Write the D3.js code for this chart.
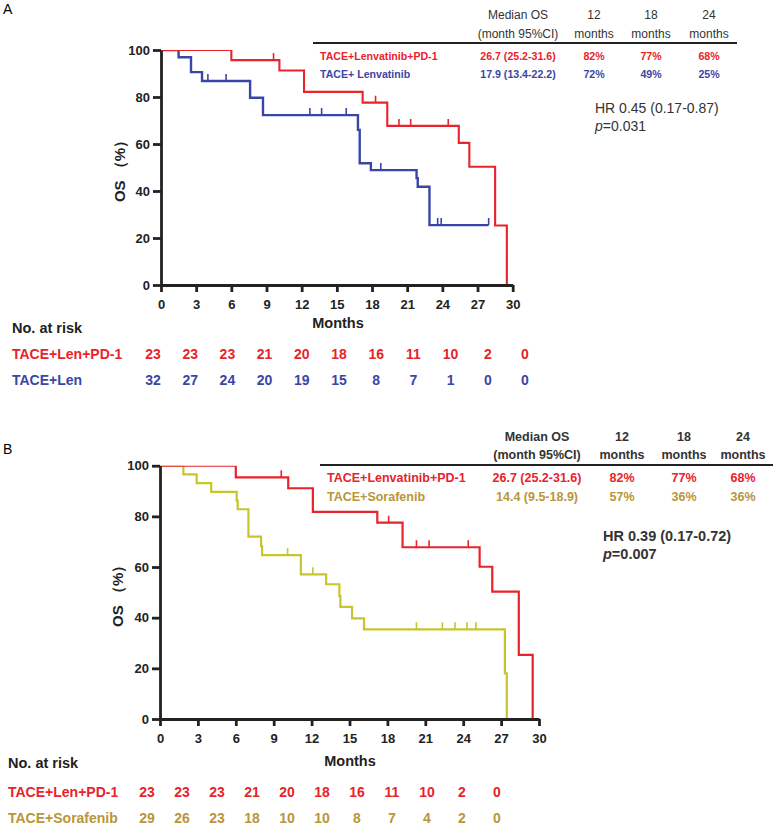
<!DOCTYPE html>
<meta charset="utf-8">
<style>
    body {
        margin: 0;
        background: #fff;
        font-family: "Liberation Sans", Arial, sans-serif;
    }
    .axis path, .axis line {
        stroke: #222;
        stroke-width: 2.8;
    }
    .axis text {
        font-size: 13px;
        font-weight: bold;
        fill: #222;
    }
    .km {
        fill: none;
    }
    .tbl {
        fill: #333;
    }
</style>
<body>
<script src="https://d3js.org/d3.v7.min.js"></script>
<script>

    var monthTicks = [0, 3, 6, 9, 12, 15, 18, 21, 24, 27, 30];
    var pctTicks = [0, 20, 40, 60, 80, 100];

    // panel A : survival steps [month, OS %], censor marks, end of follow-up
    var aLenPd1Steps = [[0, 100], [6.0, 95.7], [10.1, 91.3], [12.2, 82.2], [17.2, 77.6], [19.3, 67.7],
        [25.4, 60.5], [26.3, 50.3], [28.5, 25.3], [29.5, 0]];
    var aLenPd1Censor = [9.6, 18.3, 20.3, 21.3, 24.5];
    var aLenPd1End = 29.5;

    var aLenSteps = [[0, 100], [1.5, 96.9], [2.56, 90.6], [3.5, 86.8], [7.6, 79.7], [8.7, 72.3],
        [16.8, 66.0], [16.95, 51.8], [17.9, 48.9], [21.8, 45.5], [21.9, 41.8], [22.9, 25.5]];
    var aLenCensor = [4.0, 5.55, 12.7, 13.7, 15.8, 18.75, 23.6, 23.9, 27.95];
    var aLenEnd = 27.95;

    var aRiskLenPd1 = [23, 23, 23, 21, 20, 18, 16, 11, 10, 2, 0];
    var aRiskLen = [32, 27, 24, 20, 19, 15, 8, 7, 1, 0, 0];

    var aRowLabels = ["TACE+Lenvatinib+PD-1", "TACE+ Lenvatinib"];
    var aMedianOS = ["26.7 (25.2-31.6)", "17.9 (13.4-22.2)"];
    var aRates = [["82%", "77%", "68%"], ["72%", "49%", "25%"]];
    var aHR = "HR 0.45 (0.17-0.87)";
    var aP = "0.031";

    // panel B
    var bLenPd1Steps = [[0, 100], [6.0, 95.4], [10.15, 91.1], [12.1, 81.8], [17.2, 77.5], [19.2, 67.8],
        [25.3, 60.1], [26.3, 50.3], [28.4, 25.3], [29.5, 0]];
    var bLenPd1Censor = [9.6, 18.1, 20.3, 21.3, 24.4];
    var bLenPd1End = 29.5;

    var bSorSteps = [[0, 100], [1.85, 96.6], [2.9, 93.1], [4.05, 89.7], [6.07, 86.2], [6.15, 82.8],
        [7.0, 72.0], [8.0, 68.2], [8.08, 64.7], [11.15, 57.1], [13.15, 53.2], [14.2, 48.5],
        [14.28, 44.3], [15.2, 39.7], [16.15, 35.4], [27.3, 18.0], [27.45, 0]];
    var bSorCensor = [10.1, 12.1, 20.3, 22.35, 23.35, 24.3, 25.0];
    var bSorEnd = 27.45;

    var bRiskLenPd1 = [23, 23, 23, 21, 20, 18, 16, 11, 10, 2, 0];
    var bRiskSor = [29, 26, 23, 18, 10, 10, 8, 7, 4, 2, 0];

    var bRowLabels = ["TACE+Lenvatinib+PD-1", "TACE+Sorafenib"];
    var bMedianOS = ["26.7 (25.2-31.6)", "14.4 (9.5-18.9)"];
    var bRates = [["82%", "77%", "68%"], ["57%", "36%", "36%"]];
    var bHR = "HR 0.39 (0.17-0.72)";
    var bP = "0.007";

    var rateHeaders = ["12", "18", "24"];

    var red = "#e8232b", blue = "#3a46a6", olive = "#c6c62c", gold = "#b8963a";

    var svg = d3.select("body").append("svg")
        .attr("width", 777)
        .attr("height", 835);

    var defs = svg.append("defs");

    function drawPanel(c) {
        var x = d3.scaleLinear().domain([0, 30]).range(c.xr);
        var y = d3.scaleLinear().domain([0, 100]).range(c.yr);
        var riskX = d3.scaleLinear().domain([0, 30]).range(c.riskR);

        svg.append("text")
            .attr("x", 3).attr("y", c.letterY)
            .style("font-size", "14px")
            .text(c.letter);

        defs.append("clipPath")
            .attr("id", c.id + "clip")
            .append("rect")
            .attr("x", c.xr[0])
            .attr("y", c.yr[1])
            .attr("width", c.xr[1] - c.xr[0] + 6)
            .attr("height", c.yr[0] - c.yr[1] + 3);

        var g = svg.append("g").attr("clip-path", "url(#" + c.id + "clip)");

        var line = d3.line()
            .x(function(d) { return x(d[0]); })
            .y(function(d) { return y(d[1]); })
            .curve(d3.curveStepAfter);

        c.series.forEach(function(s) {
            var pts = s.steps.slice();
            var last = pts[pts.length - 1];
            if (last[0] < s.end) pts.push([s.end, last[1]]);
            g.append("path")
                .attr("class", "km")
                .attr("d", line(pts))
                .attr("stroke", s.color)
                .attr("stroke-width", s.width);

            var bis = d3.bisector(function(d) { return d[0]; }).right;
            g.selectAll(null)
                .data(s.censor)
                .enter().append("line")
                .attr("x1", function(t) { return x(t); })
                .attr("x2", function(t) { return x(t); })
                .attr("y1", function(t) { return y(s.steps[bis(s.steps, t) - 1][1]); })
                .attr("y2", function(t) { return y(s.steps[bis(s.steps, t) - 1][1]) - 7; })
                .attr("stroke", s.color)
                .attr("stroke-width", 1.6);
        });

        svg.append("g")
            .attr("class", "axis")
            .attr("transform", "translate(0," + c.yr[0] + ")")
            .call(d3.axisBottom(x).tickValues(monthTicks).tickSize(7).tickPadding(8).tickSizeOuter(0));

        svg.append("g")
            .attr("class", "axis")
            .attr("transform", "translate(" + c.xr[0] + ",0)")
            .call(d3.axisLeft(y).tickValues(pctTicks).tickSize(8).tickPadding(3).tickSizeOuter(0));

        svg.append("text")
            .attr("transform", "translate(" + c.osX + "," + ((c.yr[0] + c.yr[1]) / 2) + ") rotate(-90)")
            .attr("text-anchor", "middle")
            .attr("dy", "0.35em")
            .style("font-size", "15px")
            .style("font-weight", "bold")
            .style("fill", "#222")
            .text("OS （%）");

        svg.append("text")
            .attr("x", c.monthsX).attr("y", c.monthsY)
            .attr("text-anchor", "middle")
            .style("font-size", "14.5px")
            .style("font-weight", "bold")
            .style("fill", "#222")
            .text("Months");

        // risk table
        svg.append("text")
            .attr("x", c.riskLabelX).attr("y", c.noRiskY)
            .style("font-size", "14.5px")
            .style("font-weight", "bold")
            .style("fill", "#222")
            .text("No. at risk");

        c.risk.forEach(function(r, i) {
            svg.append("text")
                .attr("x", c.riskLabelX).attr("y", c.riskY[i])
                .style("font-size", "14px")
                .style("font-weight", "bold")
                .style("fill", r.color)
                .text(r.label);
            svg.selectAll(null)
                .data(r.values)
                .enter().append("text")
                .attr("x", function(d, j) { return riskX(monthTicks[j]); })
                .attr("y", c.riskY[i])
                .attr("text-anchor", "middle")
                .style("font-size", "14px")
                .style("font-weight", "bold")
                .style("fill", r.color)
                .text(function(d) { return d; });
        });

        // summary table
        var t = c.table;
        var tg = svg.append("g")
            .style("font-size", t.size + "px");

        function head(xp, yp, s) {
            tg.append("text").attr("class", "tbl")
                .attr("x", xp).attr("y", yp).attr("text-anchor", "middle")
                .style("font-weight", t.headWeight).style("font-size", t.headSize + "px")
                .text(s);
        }
        head(t.medX, t.h1, "Median OS");
        head(t.medX, t.h2, "(month 95%CI)");
        rateHeaders.forEach(function(h, j) {
            head(t.rateX[j], t.h1, h);
            head(t.rateX[j], t.h2, "months");
        });
        tg.append("line")
            .attr("x1", t.lineX[0]).attr("x2", t.lineX[1])
            .attr("y1", t.lineY).attr("y2", t.lineY)
            .attr("stroke", "#222").attr("stroke-width", 2.2);

        t.labels.forEach(function(lab, i) {
            var col = c.risk[i].color;
            tg.append("text")
                .attr("x", t.labX).attr("y", t.rowY[i])
                .style("font-weight", "bold").style("fill", col)
                .text(lab);
            tg.append("text")
                .attr("x", t.medX).attr("y", t.rowY[i]).attr("text-anchor", "middle")
                .style("font-weight", "bold").style("fill", col)
                .text(t.medians[i]);
            t.rates[i].forEach(function(v, j) {
                tg.append("text")
                    .attr("x", t.rateX[j]).attr("y", t.rowY[i]).attr("text-anchor", "middle")
                    .style("font-weight", "bold").style("fill", col)
                    .text(v);
            });
        });

        svg.append("text").attr("class", "tbl")
            .attr("x", c.hrX).attr("y", c.hrY)
            .style("font-size", c.hrSize + "px")
            .style("font-weight", c.hrWeight)
            .text(c.hr);
        var p = svg.append("text").attr("class", "tbl")
            .attr("x", c.hrX).attr("y", c.hrY + 18)
            .style("font-size", c.hrSize + "px")
            .style("font-weight", c.hrWeight);
        p.append("tspan").style("font-style", "italic").text("p");
        p.append("tspan").text("=" + c.p);
    }

    drawPanel({
        id: "a", letter: "A", letterY: 14,
        xr: [161, 512.7], yr: [285, 50],
        riskR: [153, 525], riskLabelX: 12, noRiskY: 333, riskY: [359, 385],
        osX: 120, monthsX: 338, monthsY: 328,
        series: [
            {steps: aLenSteps, censor: aLenCensor, end: aLenEnd, color: blue, width: 2.4},
            {steps: aLenPd1Steps, censor: aLenPd1Censor, end: aLenPd1End, color: red, width: 2.1}
        ],
        risk: [
            {label: "TACE+Len+PD-1", values: aRiskLenPd1, color: red},
            {label: "TACE+Len", values: aRiskLen, color: blue}
        ],
        table: {
            size: 10.6, headSize: 12, headWeight: "normal",
            labels: aRowLabels, medians: aMedianOS, rates: aRates,
            labX: 320, medX: 518, rateX: [594, 651, 709],
            h1: 19, h2: 38, lineY: 43, lineX: [313, 737], rowY: [60, 78]
        },
        hr: aHR, p: aP, hrX: 595, hrY: 113, hrSize: 14, hrWeight: "normal"
    });

    drawPanel({
        id: "b", letter: "B", letterY: 454,
        xr: [160, 539], yr: [719, 465.7],
        riskR: [147, 497], riskLabelX: 8, noRiskY: 768, riskY: [797, 823],
        osX: 118, monthsX: 350, monthsY: 766,
        series: [
            {steps: bSorSteps, censor: bSorCensor, end: bSorEnd, color: olive, width: 2.2},
            {steps: bLenPd1Steps, censor: bLenPd1Censor, end: bLenPd1End, color: red, width: 2.2}
        ],
        risk: [
            {label: "TACE+Len+PD-1", values: bRiskLenPd1, color: red},
            {label: "TACE+Sorafenib", values: bRiskSor, color: gold}
        ],
        table: {
            size: 12.5, headSize: 12.5, headWeight: "bold",
            labels: bRowLabels, medians: bMedianOS, rates: bRates,
            labX: 327, medX: 537, rateX: [622, 684, 743],
            h1: 441, h2: 459, lineY: 465, lineX: [320, 773], rowY: [482, 501]
        },
        hr: bHR, p: bP, hrX: 603, hrY: 541, hrSize: 14.5, hrWeight: "bold"
    });

</script>
